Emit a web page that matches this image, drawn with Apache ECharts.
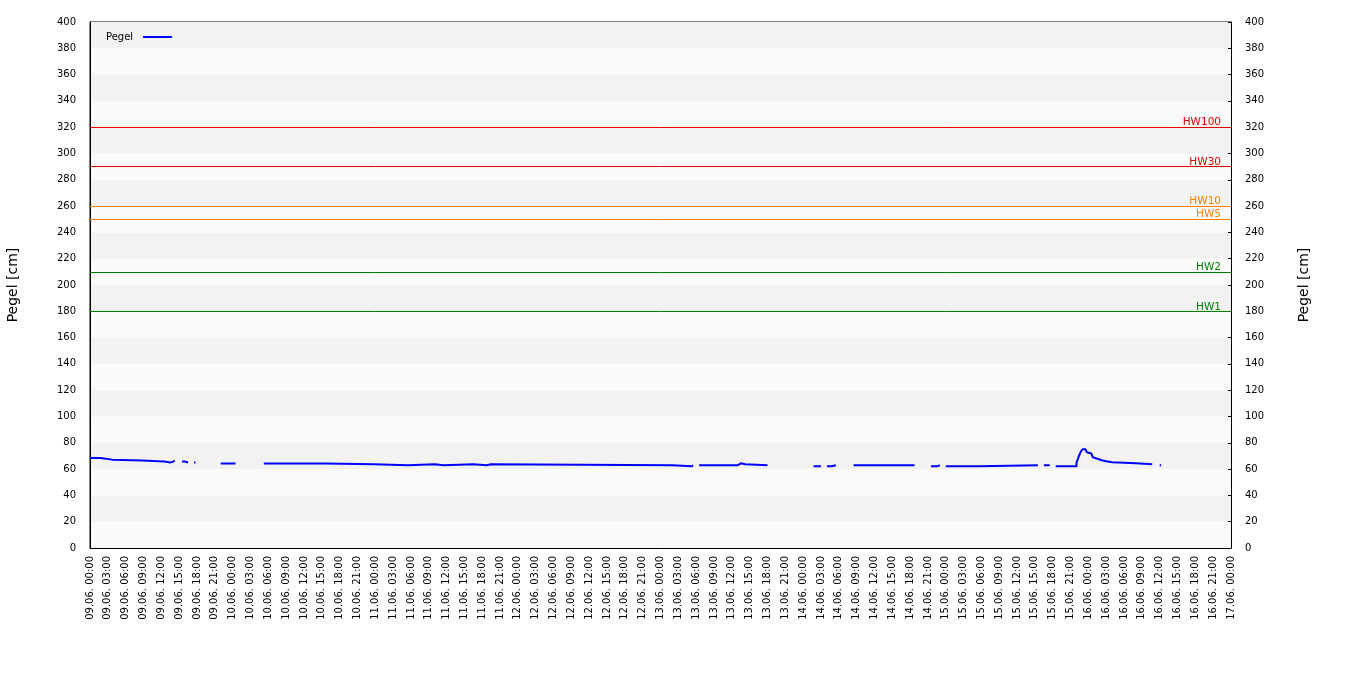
<!DOCTYPE html>
<html>
<head>
<meta charset="utf-8">
<script src="https://cdn.jsdelivr.net/npm/echarts@6/dist/echarts.min.js"></script>
<style>
html,body{margin:0;padding:0;background:#fff;}
#chart{width:1350px;height:700px;}
</style>
</head>
<body>
<div id="chart"></div>
<script>
// Hours since 09.06. 00:00 (null level = gap in record)
const times = [
  0, 1.75, 3.75, 8.75, 12.5, 13.5, 14.0, 14.25, 15,
  15.5, 16.0, 16.5, 17,
  17.5, 17.75, 20,
  22.0, 24.5, 27,
  29.25, 39.5, 47.75, 53.5, 58.0, 59.5, 64.5, 66.75, 67.5, 98.0, 101.25, 101.5, 102,
  102.5, 109.0, 109.5, 110.25, 114.0, 118,
  121.75, 123.0, 123.5,
  124.0, 124.75, 125.5, 127,
  128.5, 138.75, 140,
  141.5, 142.5, 143.0, 143.5,
  144.0, 149.75, 159.5, 160,
  160.5, 161.5, 162,
  162.5, 166.0, 166.25, 166.5, 166.75, 167.0, 167.5, 167.75, 168.0, 168.5, 168.75, 169.0, 169.75, 170.25, 171.0, 172.0, 176.0, 178.75, 179.5,
  180.0, 180.25
];
const levels = [
  68.5, 67.2, 66.5, 65.7, 65.0, 65.7, 66.5, 66.5, null,
  65.7, 65.0, 65.0, null,
  65.0, 65.0, null,
  64.2, 64.2, null,
  64.2, 63.7, 62.9, 63.7, 62.9, 63.7, 62.9, 63.7, 62.9, 62.1, 62.9, 62.9, null,
  62.9, 64.4, 63.7, 62.9, 62.9, null,
  62.1, 62.1, null,
  62.1, 62.9, 62.9, null,
  62.9, 62.9, null,
  62.1, 62.9, 62.9, null,
  62.1, 62.9, 62.9, null,
  62.9, 62.9, null,
  62.1, 64.7, 68.0, 71.0, 73.5, 75.1, 73.8, 72.8, 71.8, 70.3, 69.0, 67.5, 66.7, 65.9, 65.2, 64.4, 63.6, 63.6, null,
  62.9, 62.9
];

// Flood warning levels (Hochwasser)
const hwNames  = ['HW1', 'HW2', 'HW5', 'HW10', 'HW30', 'HW100'];
const hwValues = [180, 210, 250, 260, 290, 320];
const hwColors = ['#008000', '#008000', '#ff8000', '#ff8000', '#e60000', '#e60000'];

const startDay = 9, month = '06';
const seriesName = 'Pegel';
const axisTitle = 'Pegel [cm]';

function tickLabel(h) {
  const d = startDay + Math.floor(h / 24);
  const hh = h % 24;
  return String(d).padStart(2, '0') + '.' + month + '. ' + String(hh).padStart(2, '0') + ':00';
}

// Build a step line: each reading holds until the next reading.
const data = [];
for (let i = 0; i < times.length; i++) {
  if (levels[i] === null) { data.push([times[i], null]); continue; }
  data.push([times[i], levels[i]]);
  if (i + 1 < times.length && levels[i + 1] !== null) data.push([times[i + 1], levels[i]]);
}

const font = 'DejaVu Sans';

const yAxisBase = {
  type: 'value', min: 0, max: 400, interval: 20,
  name: axisTitle, nameLocation: 'middle', nameRotate: 90,
  nameTextStyle: { fontFamily: font, fontSize: 14, color: '#000' },
  axisLine: { show: true, lineStyle: { color: '#000' } },
  axisLabel: { fontFamily: font, fontSize: 10, color: '#000', margin: 14 },
  splitLine: { show: false }
};

const option = {
  animation: false,
  backgroundColor: '#ffffff',
  grid: { left: 90, right: 119, top: 22, bottom: 152, show: true, borderColor: '#000', borderWidth: 1,
          backgroundColor: 'transparent', containLabel: false, outerBoundsMode: 'none' },
  legend: {
    left: 101, top: 27, align: 'right', icon: 'rect',
    itemWidth: 29, itemHeight: 2,
    itemStyle: { color: '#0000ff' },
    textStyle: { fontFamily: font, fontSize: 10, color: '#000', padding: [0, 5, 0, 0] },
    data: [seriesName]
  },
  xAxis: {
    type: 'value', min: 0, max: 192, interval: 3,
    axisLine: { show: true, lineStyle: { color: '#000' } },
    axisTick: { show: false },
    splitLine: { show: false },
    axisLabel: { rotate: 90, fontFamily: font, fontSize: 10, color: '#000', margin: 8, formatter: tickLabel }
  },
  yAxis: [
    Object.assign({}, yAxisBase, { position: 'left', nameGap: 70,
      axisTick: { show: false },
      splitArea: { show: true, areaStyle: { color: ['#fafafa', '#f2f2f2'] } } }),
    Object.assign({}, yAxisBase, { position: 'right', nameGap: 66,
      axisTick: { show: true, inside: true, length: 3, lineStyle: { color: '#000' } },
      splitArea: { show: false } })
  ],
  series: [{
    name: seriesName, type: 'line', yAxisIndex: 0,
    data: data, symbol: 'none', showSymbol: false, connectNulls: false,
    lineStyle: { color: '#0000ff', width: 2 }, itemStyle: { color: '#0000ff' },
    markLine: {
      silent: true, symbol: 'none', animation: false,
      data: hwNames.map((n, i) => ({
        name: n, yAxis: hwValues[i],
        lineStyle: { color: hwColors[i], width: 1, type: 'solid' },
        label: { show: true, formatter: '{b}', position: 'insideEndTop', distance: [10, -1],
                 color: hwColors[i], fontFamily: font, fontSize: 10.5 }
      }))
    }
  }]
};

const chart = echarts.init(document.getElementById('chart'), null, { renderer: 'canvas' });
chart.setOption(option);
</script>
</body>
</html>
